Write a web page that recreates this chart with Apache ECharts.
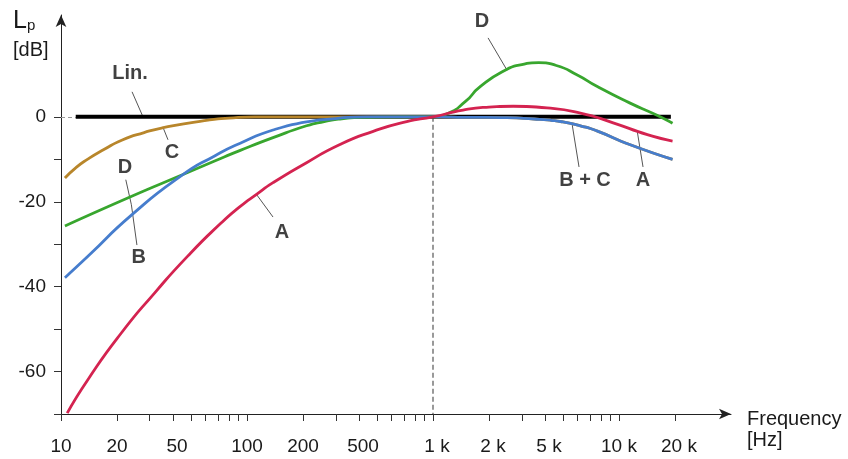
<!DOCTYPE html>
<html><head><meta charset="utf-8">
<script src="https://cdn.jsdelivr.net/npm/echarts@6/dist/echarts.min.js"></script>
<style>html,body{margin:0;padding:0;background:#fff}#c{width:848px;height:459px}</style>
</head><body><div id="c"></div>
<script>
// ---- data ----
const freqTicks = [10,20,30,40,50,60,70,80,90,100,200,300,400,500,600,700,800,900,1000,2000,3000,4000,5000,6000,7000,8000,9000,10000,20000];
const freqLabels = [10,20,50,100,200,500,1000,2000,5000,10000,20000];
const dbTicks = [-70,-60,-50,-40,-30,-20,-10,0];
const dbLabels = [0,-20,-40,-60];

const curveLin = [[12,0],[19000,0]];
const curveA = [[10.8,-69.8],[14,-61.8],[21.2,-50.8],[32,-41.4],[48,-32.8],[73,-24.9],[92,-21.1],[112,-18.3],[138,-15.5],[209,-10.8],[316,-6.5],[477,-3.4],[722,-1.1],[1000,0],[1450,1.6],[2000,2.3],[2700,2.5],[4100,2.1],[6200,0.9],[9300,-1.4],[14200,-4.2],[19400,-5.7]];
const curveB = [[10.5,-37.9],[14,-32.8],[24,-23.1],[44.6,-13.8],[67,-9.2],[92,-6.2],[138,-3.1],[209,-1.2],[300,-0.4],[380,-0.05],[600,0],[1000,0],[1500,-0.1],[2500,-0.2],[3500,-0.5],[4300,-0.8],[5000,-1.2],[6200,-2.1],[7600,-3.3],[11400,-6.5],[19400,-10]];
const curveC = [[10.5,-14.4],[12,-12.0],[14,-9.9],[17,-7.7],[21.2,-5.5],[28,-3.7],[36,-2.5],[59,-0.9],[80,-0.3],[110,0],[300,0],[1000,0],[1500,-0.1],[2500,-0.2],[3500,-0.5],[4300,-0.8],[5000,-1.2],[6200,-2.1],[7600,-3.3],[11400,-6.5],[19400,-10]];
const curveD = [[10.5,-25.7],[24,-18.7],[44.6,-13.7],[67,-10.4],[92,-7.9],[138,-4.9],[209,-2.1],[260,-1.1],[316,-0.5],[420,-0.1],[700,0],[1000,0],[1200,0.8],[1500,3.7],[1780,7.0],[2470,11.1],[3000,12.3],[3700,12.8],[4600,12.1],[6000,9.8],[7600,7.2],[11400,3.3],[15800,0.5],[19400,-1.5]];

const annotations = [
  {text:'Lin.',  label:[23.5,10.3],  from:[24.1,5.9],   to:[27.6,0]},
  {text:'C',     label:[39.5,-8.3],  from:[37.6,-5.4],  to:[35.3,-2.4]},
  {text:'D',     label:[22.1,-12.0], from:[22.3,-14.8], to:[23.9,-20.7]},
  {text:'B',     label:[26.2,-33.2], from:[25.6,-30.2], to:[23.9,-20.7]},
  {text:'A',     label:[154,-27.3],  from:[138,-23.6],  to:[113,-18.4]},
  {text:'D',     label:[1832,22.4],  from:[1977,18.6],  to:[2500,11.0]},
  {text:'B + C', label:[6561,-14.9], from:[6095,-11.8], to:[5585,-1.5]},
  {text:'A',     label:[13460,-14.9],from:[13460,-11.8],to:[12500,-3.1]}
];
const refVertical = [[1000,0],[1000,-70]];
const refZero = [[10,0],[12,0]];

// ---- styles ----
const labelShift = {50:'sl', 500:'sl', 5000:'sl', 1000:'sr', 2000:'sr', 20000:'sr'};
const FONT = 'Liberation Sans';
const TXT = '#1a1a1a';

const chart = echarts.init(document.getElementById('c'), null, {renderer:'canvas'});
const curveStyle = (color) => ({type:'line', smooth:0.6, showSymbol:false, symbol:'none', lineStyle:{color, width:2.8}, itemStyle:{color}, z:3});

chart.setOption({
  animation:false,
  backgroundColor:'#fff',
  textStyle:{fontFamily:FONT},
  grid:{left:61, right:117, top:15, bottom:45, containLabel:false},
  xAxis:{
    type:'log', logBase:10, min:10, max:40000,
    axisLine:{onZero:false, lineStyle:{color:'#222', width:1}, symbol:['none','arrow'], symbolSize:[8,12]},
    axisTick:{show:true, length:7, lineStyle:{color:'#333'}, customValues:freqTicks},
    minorTick:{show:false},
    splitLine:{show:false},
    axisLabel:{
      customValues:freqLabels, margin:23, fontSize:19, color:TXT, fontFamily:FONT,
      formatter:(v)=>{
        const t = v>=1000 ? (v/1000)+' k' : String(v);
        const s = labelShift[v] || 'n';
        return '{'+s+'|'+t+'}';
      },
      rich:{
        n:{fontSize:19, color:TXT, fontFamily:FONT},
        sl:{fontSize:19, color:TXT, fontFamily:FONT, padding:[0,28,0,0]},
        sr:{fontSize:19, color:TXT, fontFamily:FONT, padding:[0,0,0,8]}
      }
    }
  },
  yAxis:{
    type:'value', min:-70, max:24,
    axisLine:{onZero:false, lineStyle:{color:'#222', width:1}, symbol:['none','arrow'], symbolSize:[8,12]},
    axisTick:{show:true, length:7, lineStyle:{color:'#333'}, customValues:dbTicks},
    splitLine:{show:false},
    axisLabel:{customValues:dbLabels, margin:15, fontSize:19, color:TXT, fontFamily:FONT}
  },
  graphic:[
    {type:'text', left:13, top:9, style:{text:'L', fontSize:25, fill:TXT, fontFamily:FONT}},
    {type:'text', left:27, top:18, style:{text:'p', fontSize:15, fill:TXT, fontFamily:FONT}},
    {type:'text', left:13, top:40, style:{text:'[dB]', fontSize:20, fill:TXT, fontFamily:FONT}},
    {type:'text', left:747, top:409, style:{text:'Frequency\n[Hz]', fontSize:20, lineHeight:21, fill:TXT, fontFamily:FONT}}
  ],
  series:[
    {type:'lines', coordinateSystem:'cartesian2d', silent:true, z:1,
      data:[{coords:refVertical}],
      lineStyle:{color:'#777', width:1.5, type:[5,3], opacity:1}},
    {type:'lines', coordinateSystem:'cartesian2d', silent:true, z:1,
      data:[{coords:refZero}],
      lineStyle:{color:'#999', width:1, type:[4,3], opacity:1}},
    {type:'lines', coordinateSystem:'cartesian2d', silent:true, z:1,
      data:annotations.map(a=>({coords:[a.from,a.to]})),
      lineStyle:{color:'#555', width:1, opacity:1}},
    Object.assign(curveStyle('#000'), {name:'Lin.', data:curveLin, lineStyle:{color:'#000', width:4}}),
    Object.assign(curveStyle('#b8862b'), {name:'C', data:curveC}),
    Object.assign(curveStyle('#38a62e'), {name:'D', data:curveD}),
    Object.assign(curveStyle('#467dcd'), {name:'B', data:curveB}),
    Object.assign(curveStyle('#d42350'), {name:'A', data:curveA}),
    {type:'scatter', silent:true, symbolSize:0, z:5,
      data:annotations.map(a=>({value:a.label, name:a.text})),
      label:{show:true, position:'inside', formatter:'{b}', fontSize:20, fontWeight:'bold', color:'#111', fontFamily:FONT}}
  ]
});
</script></body></html>
